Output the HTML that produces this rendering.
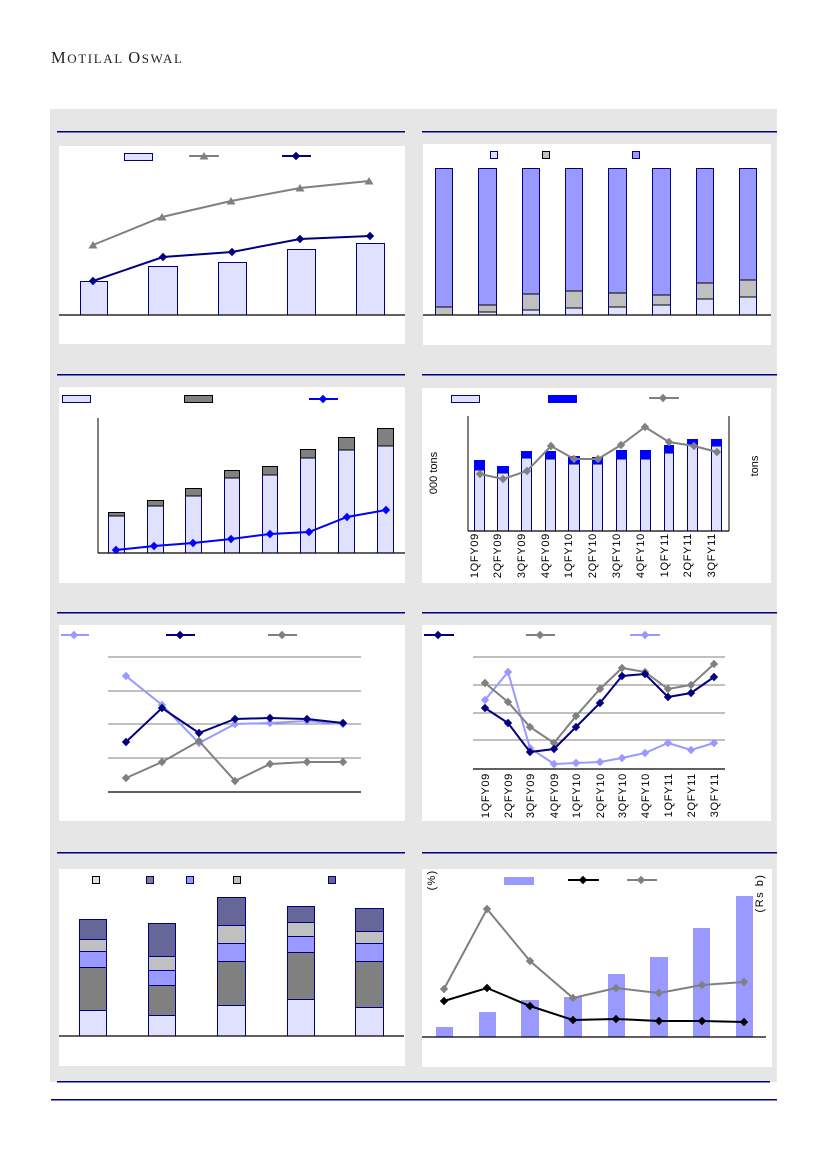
<!DOCTYPE html>
<html><head><meta charset="utf-8"><style>
html,body{margin:0;padding:0;background:#fff;}
svg{display:block;}
text{font-family:"Liberation Sans",Arial,sans-serif;}
</style></head><body>
<svg width="826" height="1169" viewBox="0 0 826 1169" xmlns="http://www.w3.org/2000/svg">
<defs>
<marker id="dNavy" markerUnits="userSpaceOnUse" markerWidth="10" markerHeight="10" refX="5" refY="5" viewBox="0 0 10 10"><path d="M5 0.8L9.2 5L5 9.2L0.8 5Z" fill="#000080"/></marker>
<marker id="dGray" markerUnits="userSpaceOnUse" markerWidth="10" markerHeight="10" refX="5" refY="5" viewBox="0 0 10 10"><path d="M5 0.8L9.2 5L5 9.2L0.8 5Z" fill="#808080"/></marker>
<marker id="dBlue" markerUnits="userSpaceOnUse" markerWidth="10" markerHeight="10" refX="5" refY="5" viewBox="0 0 10 10"><path d="M5 0.8L9.2 5L5 9.2L0.8 5Z" fill="#0000ff"/></marker>
<marker id="dLt" markerUnits="userSpaceOnUse" markerWidth="10" markerHeight="10" refX="5" refY="5" viewBox="0 0 10 10"><path d="M5 0.8L9.2 5L5 9.2L0.8 5Z" fill="#9999ff"/></marker>
<marker id="dBlk" markerUnits="userSpaceOnUse" markerWidth="10" markerHeight="10" refX="5" refY="5" viewBox="0 0 10 10"><path d="M5 0.8L9.2 5L5 9.2L0.8 5Z" fill="#000000"/></marker>
<marker id="tGray" markerUnits="userSpaceOnUse" markerWidth="10" markerHeight="10" refX="5" refY="5" viewBox="0 0 10 10"><path d="M5 1L9.5 8.5L0.5 8.5Z" fill="#808080"/></marker>
</defs>

<!-- Header -->
<text x="51" y="63" fill="#222" letter-spacing="1.6" style="font-family:'Liberation Serif',serif"><tspan font-size="16.5">M</tspan><tspan font-size="13">OTILAL </tspan><tspan font-size="16.5">O</tspan><tspan font-size="13">SWAL</tspan></text>

<!-- Gray background -->
<rect x="50" y="109" width="727" height="973" fill="#e6e6e6"/>

<!-- Title lines -->
<g fill="#000080">
<rect x="57" y="131" width="348" height="1.5"/>
<rect x="422" y="131" width="355" height="1.5"/>
<rect x="57" y="374" width="348" height="1.5"/>
<rect x="422" y="374" width="355" height="1.5"/>
<rect x="57" y="612" width="348" height="1.5"/>
<rect x="422" y="612" width="355" height="1.5"/>
<rect x="57" y="852" width="348" height="1.5"/>
<rect x="422" y="852" width="355" height="1.5"/>
<rect x="57" y="1081" width="713" height="1.5"/>
<rect x="51" y="1099" width="726" height="1.5"/>
</g>

<!-- White panels -->
<g fill="#ffffff">
<rect x="59" y="146" width="346" height="198"/>
<rect x="423" y="144" width="348" height="201"/>
<rect x="59" y="387" width="346" height="196"/>
<rect x="422" y="388" width="349" height="195"/>
<rect x="59" y="625" width="346" height="196"/>
<rect x="422" y="625" width="349" height="196"/>
<rect x="59" y="869" width="346" height="197"/>
<rect x="422" y="869" width="350" height="198"/>
</g>

<!-- ===== Chart 1 ===== -->
<rect x="124.5" y="153.5" width="28" height="7" fill="#e0e0ff" stroke="#000080" stroke-width="1"/>
<polyline points="189,156 204,156 219,156" fill="none" stroke="#808080" stroke-width="2" marker-mid="url(#tGray)"/>
<polyline points="282,156 296,156 311,156" fill="none" stroke="#000080" stroke-width="2" marker-mid="url(#dNavy)"/>
<g fill="#e0e0ff" stroke="#000080" stroke-width="1">
<rect x="80.5" y="281.5" width="27" height="33.5"/>
<rect x="148.5" y="266.5" width="29" height="48.5"/>
<rect x="218.5" y="262.5" width="28" height="52.5"/>
<rect x="287.5" y="249.5" width="28" height="65.5"/>
<rect x="356.5" y="243.5" width="28" height="71.5"/>
</g>
<line x1="59" y1="315" x2="405" y2="315" stroke="#000" stroke-width="1.2"/>
<polyline points="93,245 162,217 231,201 300,188 369,181" fill="none" stroke="#808080" stroke-width="2" marker-start="url(#tGray)" marker-mid="url(#tGray)" marker-end="url(#tGray)"/>
<polyline points="93,281 163,257 232,252 300,239 370,236" fill="none" stroke="#000080" stroke-width="2" marker-start="url(#dNavy)" marker-mid="url(#dNavy)" marker-end="url(#dNavy)"/>

<!-- ===== Chart 2 ===== -->
<rect x="490.5" y="151.5" width="7" height="7" fill="#e0e0ff" stroke="#000080"/>
<rect x="542.5" y="151.5" width="7" height="7" fill="#c0c0c0" stroke="#000"/>
<rect x="632.5" y="151.5" width="7" height="7" fill="#9999ff" stroke="#000080"/>
<g stroke-width="1">
<rect x="435.5" y="168.5" width="17" height="138.5" fill="#9999ff" stroke="#000080"/>
<rect x="435.5" y="307" width="17" height="8" fill="#c0c0c0" stroke="#000080"/>
<line x1="435.5" y1="307" x2="452.5" y2="307" stroke="#000"/>
<rect x="478.5" y="168.5" width="18" height="136.5" fill="#9999ff" stroke="#000080"/>
<rect x="478.5" y="305" width="18" height="7" fill="#c0c0c0" stroke="#000080"/>
<rect x="478.5" y="312" width="18" height="3" fill="#e0e0ff" stroke="#000080"/>
<line x1="478.5" y1="305" x2="496.5" y2="305" stroke="#000"/><line x1="478.5" y1="312" x2="496.5" y2="312" stroke="#000"/>
<rect x="522.5" y="168.5" width="17" height="125.5" fill="#9999ff" stroke="#000080"/>
<rect x="522.5" y="294" width="17" height="16" fill="#c0c0c0" stroke="#000080"/>
<rect x="522.5" y="310" width="17" height="5" fill="#e0e0ff" stroke="#000080"/>
<line x1="522.5" y1="294" x2="539.5" y2="294" stroke="#000"/><line x1="522.5" y1="310" x2="539.5" y2="310" stroke="#000"/>
<rect x="565.5" y="168.5" width="17" height="122.5" fill="#9999ff" stroke="#000080"/>
<rect x="565.5" y="291" width="17" height="17" fill="#c0c0c0" stroke="#000080"/>
<rect x="565.5" y="308" width="17" height="7" fill="#e0e0ff" stroke="#000080"/>
<line x1="565.5" y1="291" x2="582.5" y2="291" stroke="#000"/><line x1="565.5" y1="308" x2="582.5" y2="308" stroke="#000"/>
<rect x="608.5" y="168.5" width="18" height="124.5" fill="#9999ff" stroke="#000080"/>
<rect x="608.5" y="293" width="18" height="14" fill="#c0c0c0" stroke="#000080"/>
<rect x="608.5" y="307" width="18" height="8" fill="#e0e0ff" stroke="#000080"/>
<line x1="608.5" y1="293" x2="626.5" y2="293" stroke="#000"/><line x1="608.5" y1="307" x2="626.5" y2="307" stroke="#000"/>
<rect x="652.5" y="168.5" width="18" height="126.5" fill="#9999ff" stroke="#000080"/>
<rect x="652.5" y="295" width="18" height="10" fill="#c0c0c0" stroke="#000080"/>
<rect x="652.5" y="305" width="18" height="10" fill="#e0e0ff" stroke="#000080"/>
<line x1="652.5" y1="295" x2="670.5" y2="295" stroke="#000"/><line x1="652.5" y1="305" x2="670.5" y2="305" stroke="#000"/>
<rect x="696.5" y="168.5" width="17" height="114.5" fill="#9999ff" stroke="#000080"/>
<rect x="696.5" y="283" width="17" height="16" fill="#c0c0c0" stroke="#000080"/>
<rect x="696.5" y="299" width="17" height="16" fill="#e0e0ff" stroke="#000080"/>
<line x1="696.5" y1="283" x2="713.5" y2="283" stroke="#000"/><line x1="696.5" y1="299" x2="713.5" y2="299" stroke="#000"/>
<rect x="739.5" y="168.5" width="17" height="111.5" fill="#9999ff" stroke="#000080"/>
<rect x="739.5" y="280" width="17" height="17" fill="#c0c0c0" stroke="#000080"/>
<rect x="739.5" y="297" width="17" height="18" fill="#e0e0ff" stroke="#000080"/>
<line x1="739.5" y1="280" x2="756.5" y2="280" stroke="#000"/><line x1="739.5" y1="297" x2="756.5" y2="297" stroke="#000"/>
</g>
<line x1="423" y1="315" x2="771" y2="315" stroke="#000" stroke-width="1.2"/>

<!-- ===== Chart 3 ===== -->
<rect x="62.5" y="395.5" width="28" height="7" fill="#e0e0ff" stroke="#000080"/>
<rect x="184.5" y="395.5" width="28" height="7" fill="#808080" stroke="#000"/>
<polyline points="309,399 323,399 338,399" fill="none" stroke="#0000ff" stroke-width="2" marker-mid="url(#dBlue)"/>
<g stroke-width="1">
<rect x="108.5" y="516" width="16" height="37" fill="#e0e0ff" stroke="#000080"/><rect x="108.5" y="512.5" width="16" height="3.5" fill="#808080" stroke="#000"/>
<rect x="147.5" y="506" width="16" height="47" fill="#e0e0ff" stroke="#000080"/><rect x="147.5" y="500.5" width="16" height="5.5" fill="#808080" stroke="#000"/>
<rect x="185.5" y="496" width="16" height="57" fill="#e0e0ff" stroke="#000080"/><rect x="185.5" y="488.5" width="16" height="7.5" fill="#808080" stroke="#000"/>
<rect x="224.5" y="478" width="15" height="75" fill="#e0e0ff" stroke="#000080"/><rect x="224.5" y="470.5" width="15" height="7.5" fill="#808080" stroke="#000"/>
<rect x="262.5" y="475" width="15" height="78" fill="#e0e0ff" stroke="#000080"/><rect x="262.5" y="466.5" width="15" height="8.5" fill="#808080" stroke="#000"/>
<rect x="300.5" y="458" width="15" height="95" fill="#e0e0ff" stroke="#000080"/><rect x="300.5" y="449.5" width="15" height="8.5" fill="#808080" stroke="#000"/>
<rect x="338.5" y="450" width="16" height="103" fill="#e0e0ff" stroke="#000080"/><rect x="338.5" y="437.5" width="16" height="12.5" fill="#808080" stroke="#000"/>
<rect x="377.5" y="446" width="16" height="107" fill="#e0e0ff" stroke="#000080"/><rect x="377.5" y="428.5" width="16" height="17.5" fill="#808080" stroke="#000"/>
</g>
<line x1="98" y1="418" x2="98" y2="553" stroke="#000" stroke-width="1"/>
<line x1="98" y1="553" x2="405" y2="553" stroke="#000" stroke-width="1.2"/>
<polyline points="116,550 154,546 193,543 231,539 270,534 309,532 347,517 386,510" fill="none" stroke="#0000ff" stroke-width="2" marker-start="url(#dBlue)" marker-mid="url(#dBlue)" marker-end="url(#dBlue)"/>

<!-- ===== Chart 4 ===== -->
<rect x="451.5" y="395.5" width="28" height="7" fill="#e0e0ff" stroke="#000080"/>
<rect x="548" y="395" width="29" height="8" fill="#0000ff"/>
<polyline points="649,398 663,398 679,398" fill="none" stroke="#808080" stroke-width="2" marker-mid="url(#dGray)"/>
<g stroke-width="1">
<rect x="474.5" y="470" width="10" height="61" fill="#e0e0ff" stroke="#000080"/><rect x="474" y="460" width="11" height="10" fill="#0000ff"/>
<rect x="497.5" y="473" width="11" height="58" fill="#e0e0ff" stroke="#000080"/><rect x="497" y="466" width="12" height="7" fill="#0000ff"/>
<rect x="521.5" y="458" width="10" height="73" fill="#e0e0ff" stroke="#000080"/><rect x="521" y="451" width="11" height="7" fill="#0000ff"/>
<rect x="545.5" y="459" width="10" height="72" fill="#e0e0ff" stroke="#000080"/><rect x="545" y="451" width="11" height="8" fill="#0000ff"/>
<rect x="568.5" y="464" width="11" height="67" fill="#e0e0ff" stroke="#000080"/><rect x="568" y="456" width="12" height="8" fill="#0000ff"/>
<rect x="592.5" y="464" width="10" height="67" fill="#e0e0ff" stroke="#000080"/><rect x="592" y="457" width="11" height="7" fill="#0000ff"/>
<rect x="616.5" y="459" width="10" height="72" fill="#e0e0ff" stroke="#000080"/><rect x="616" y="450" width="11" height="9" fill="#0000ff"/>
<rect x="640.5" y="459" width="10" height="72" fill="#e0e0ff" stroke="#000080"/><rect x="640" y="450" width="11" height="9" fill="#0000ff"/>
<rect x="664.5" y="453" width="9" height="78" fill="#e0e0ff" stroke="#000080"/><rect x="664" y="445" width="10" height="8" fill="#0000ff"/>
<rect x="687.5" y="445" width="10" height="86" fill="#e0e0ff" stroke="#000080"/><rect x="687" y="439" width="11" height="6" fill="#0000ff"/>
<rect x="711.5" y="446" width="10" height="85" fill="#e0e0ff" stroke="#000080"/><rect x="711" y="439" width="11" height="7" fill="#0000ff"/>
</g>
<line x1="468" y1="416" x2="468" y2="531" stroke="#000"/>
<line x1="729" y1="416" x2="729" y2="531" stroke="#000"/>
<line x1="468" y1="531" x2="729" y2="531" stroke="#000" stroke-width="1.2"/>
<polyline points="480,474 503,479 527,471 551,446 574,459 598,459 621,445 645,427 669,442 694,446 717,452" fill="none" stroke="#808080" stroke-width="2" marker-start="url(#dGray)" marker-mid="url(#dGray)" marker-end="url(#dGray)"/>
<g font-size="11" fill="#000">
<text transform="translate(437,473) rotate(-90)" text-anchor="middle">000 tons</text>
<text transform="translate(758,466) rotate(-90)" text-anchor="middle">tons</text>
</g>
<g font-size="11" fill="#000" letter-spacing="0.7" text-anchor="end">
<text transform="translate(478,533) rotate(-90)">1QFY09</text>
<text transform="translate(501,533) rotate(-90)">2QFY09</text>
<text transform="translate(525,533) rotate(-90)">3QFY09</text>
<text transform="translate(549,533) rotate(-90)">4QFY09</text>
<text transform="translate(572,533) rotate(-90)">1QFY10</text>
<text transform="translate(596,533) rotate(-90)">2QFY10</text>
<text transform="translate(620,533) rotate(-90)">3QFY10</text>
<text transform="translate(644,533) rotate(-90)">4QFY10</text>
<text transform="translate(668,533) rotate(-90)">1QFY11</text>
<text transform="translate(691,533) rotate(-90)">2QFY11</text>
<text transform="translate(715,533) rotate(-90)">3QFY11</text>
</g>

<!-- ===== Chart 5 ===== -->
<polyline points="61,635 74,635 89,635" fill="none" stroke="#9999ff" stroke-width="2" marker-mid="url(#dLt)"/>
<polyline points="166,635 180,635 195,635" fill="none" stroke="#000080" stroke-width="2" marker-mid="url(#dNavy)"/>
<polyline points="268,635 282,635 297,635" fill="none" stroke="#808080" stroke-width="2" marker-mid="url(#dGray)"/>
<g stroke="#808080" stroke-width="1">
<line x1="108" y1="657" x2="361" y2="657"/>
<line x1="108" y1="691" x2="361" y2="691"/>
<line x1="108" y1="724" x2="361" y2="724"/>
<line x1="108" y1="758" x2="361" y2="758"/>
</g>
<line x1="108" y1="792" x2="361" y2="792" stroke="#000" stroke-width="1.2"/>
<polyline points="126,676 162,705 199,743 235,724 270,723 307,721 343,724" fill="none" stroke="#9999ff" stroke-width="2" marker-start="url(#dLt)" marker-mid="url(#dLt)" marker-end="url(#dLt)"/>
<polyline points="126,778 162,762 199,741 235,781 270,764 307,762 343,762" fill="none" stroke="#808080" stroke-width="2" marker-start="url(#dGray)" marker-mid="url(#dGray)" marker-end="url(#dGray)"/>
<polyline points="126,742 162,708 199,733 235,719 270,718 307,719 343,723" fill="none" stroke="#000080" stroke-width="2" marker-start="url(#dNavy)" marker-mid="url(#dNavy)" marker-end="url(#dNavy)"/>

<!-- ===== Chart 6 ===== -->
<polyline points="424,635 438,635 454,635" fill="none" stroke="#000080" stroke-width="2" marker-mid="url(#dNavy)"/>
<polyline points="526,635 540,635 555,635" fill="none" stroke="#808080" stroke-width="2" marker-mid="url(#dGray)"/>
<polyline points="630,635 645,635 660,635" fill="none" stroke="#9999ff" stroke-width="2" marker-mid="url(#dLt)"/>
<g stroke="#808080" stroke-width="1">
<line x1="473" y1="657" x2="725" y2="657"/>
<line x1="473" y1="685" x2="725" y2="685"/>
<line x1="473" y1="713" x2="725" y2="713"/>
<line x1="473" y1="740" x2="725" y2="740"/>
</g>
<line x1="473" y1="769" x2="725" y2="769" stroke="#000" stroke-width="1.2"/>
<polyline points="485,700 508,672 530,748 554,764 576,763 600,762 622,758 645,753 668,743 691,750 714,743" fill="none" stroke="#9999ff" stroke-width="2" marker-start="url(#dLt)" marker-mid="url(#dLt)" marker-end="url(#dLt)"/>
<polyline points="485,683 508,702 530,727 554,743 576,716 600,689 622,668 645,672 668,689 691,685 714,664" fill="none" stroke="#808080" stroke-width="2" marker-start="url(#dGray)" marker-mid="url(#dGray)" marker-end="url(#dGray)"/>
<polyline points="485,708 508,723 530,752 554,749 576,727 600,703 622,676 645,674 668,697 691,693 714,677" fill="none" stroke="#000080" stroke-width="2" marker-start="url(#dNavy)" marker-mid="url(#dNavy)" marker-end="url(#dNavy)"/>
<g font-size="11" fill="#000" letter-spacing="0.7" text-anchor="end">
<text transform="translate(489,773) rotate(-90)">1QFY09</text>
<text transform="translate(512,773) rotate(-90)">2QFY09</text>
<text transform="translate(534,773) rotate(-90)">3QFY09</text>
<text transform="translate(558,773) rotate(-90)">4QFY09</text>
<text transform="translate(580,773) rotate(-90)">1QFY10</text>
<text transform="translate(604,773) rotate(-90)">2QFY10</text>
<text transform="translate(626,773) rotate(-90)">3QFY10</text>
<text transform="translate(649,773) rotate(-90)">4QFY10</text>
<text transform="translate(672,773) rotate(-90)">1QFY11</text>
<text transform="translate(695,773) rotate(-90)">2QFY11</text>
<text transform="translate(718,773) rotate(-90)">3QFY11</text>
</g>

<!-- ===== Chart 7 ===== -->
<rect x="92.5" y="876.5" width="7" height="7" fill="#e0e0ff" stroke="#000"/>
<rect x="146.5" y="876.5" width="7" height="7" fill="#808080" stroke="#000080"/>
<rect x="186.5" y="876.5" width="7" height="7" fill="#9999ff" stroke="#000080"/>
<rect x="233.5" y="876.5" width="7" height="7" fill="#c0c0c0" stroke="#000"/>
<rect x="328.5" y="876.5" width="7" height="7" fill="#666699" stroke="#000080"/>
<g stroke-width="1">
<rect x="79.5" y="919.5" width="27" height="20" fill="#666699" stroke="#000080"/>
<rect x="79.5" y="939.5" width="27" height="12" fill="#c0c0c0" stroke="#000080"/>
<rect x="79.5" y="951.5" width="27" height="16" fill="#9999ff" stroke="#000080"/>
<rect x="79.5" y="967.5" width="27" height="43" fill="#808080" stroke="#000080"/>
<rect x="79.5" y="1010.5" width="27" height="25.5" fill="#e0e0ff" stroke="#000080"/>
<rect x="148.5" y="923.5" width="27" height="33" fill="#666699" stroke="#000080"/>
<rect x="148.5" y="956.5" width="27" height="14" fill="#c0c0c0" stroke="#000080"/>
<rect x="148.5" y="970.5" width="27" height="15" fill="#9999ff" stroke="#000080"/>
<rect x="148.5" y="985.5" width="27" height="30" fill="#808080" stroke="#000080"/>
<rect x="148.5" y="1015.5" width="27" height="20.5" fill="#e0e0ff" stroke="#000080"/>
<rect x="217.5" y="897.5" width="28" height="28" fill="#666699" stroke="#000080"/>
<rect x="217.5" y="925.5" width="28" height="18" fill="#c0c0c0" stroke="#000080"/>
<rect x="217.5" y="943.5" width="28" height="18" fill="#9999ff" stroke="#000080"/>
<rect x="217.5" y="961.5" width="28" height="44" fill="#808080" stroke="#000080"/>
<rect x="217.5" y="1005.5" width="28" height="30.5" fill="#e0e0ff" stroke="#000080"/>
<rect x="287.5" y="906.5" width="27" height="16" fill="#666699" stroke="#000080"/>
<rect x="287.5" y="922.5" width="27" height="14" fill="#c0c0c0" stroke="#000080"/>
<rect x="287.5" y="936.5" width="27" height="16" fill="#9999ff" stroke="#000080"/>
<rect x="287.5" y="952.5" width="27" height="47" fill="#808080" stroke="#000080"/>
<rect x="287.5" y="999.5" width="27" height="36.5" fill="#e0e0ff" stroke="#000080"/>
<rect x="355.5" y="908.5" width="28" height="23" fill="#666699" stroke="#000080"/>
<rect x="355.5" y="931.5" width="28" height="12" fill="#c0c0c0" stroke="#000080"/>
<rect x="355.5" y="943.5" width="28" height="18" fill="#9999ff" stroke="#000080"/>
<rect x="355.5" y="961.5" width="28" height="46" fill="#808080" stroke="#000080"/>
<rect x="355.5" y="1007.5" width="28" height="28.5" fill="#e0e0ff" stroke="#000080"/>
</g>
<line x1="59" y1="1036" x2="404" y2="1036" stroke="#000" stroke-width="1.2"/>

<!-- ===== Chart 8 ===== -->
<rect x="504" y="877" width="30" height="8" fill="#9999ff"/>
<polyline points="568,880 583,880 599,880" fill="none" stroke="#000" stroke-width="2" marker-mid="url(#dBlk)"/>
<polyline points="627,880 641,880 657,880" fill="none" stroke="#808080" stroke-width="2" marker-mid="url(#dGray)"/>
<g fill="#9999ff">
<rect x="436" y="1027" width="17" height="10"/>
<rect x="479" y="1012" width="17" height="25"/>
<rect x="521" y="1000" width="18" height="37"/>
<rect x="564" y="997" width="18" height="40"/>
<rect x="608" y="974" width="17" height="63"/>
<rect x="650" y="957" width="18" height="80"/>
<rect x="693" y="928" width="17" height="109"/>
<rect x="736" y="896" width="17" height="141"/>
</g>
<line x1="422" y1="1037" x2="766" y2="1037" stroke="#000" stroke-width="1.2"/>
<polyline points="444,989 487,909 530,961 573,998 616,988 659,993 702,985 744,982" fill="none" stroke="#808080" stroke-width="2" marker-start="url(#dGray)" marker-mid="url(#dGray)" marker-end="url(#dGray)"/>
<polyline points="444,1001 487,988 530,1006 573,1020 616,1019 659,1021 702,1021 744,1022" fill="none" stroke="#000" stroke-width="2" marker-start="url(#dBlk)" marker-mid="url(#dBlk)" marker-end="url(#dBlk)"/>
<g font-size="11" fill="#000">
<text transform="translate(435,880) rotate(-90)" text-anchor="middle" letter-spacing="1.2">(%)</text>
<text transform="translate(763,893) rotate(-90)" text-anchor="middle" letter-spacing="1.5">(Rs b)</text>
</g>
</svg>
</body></html>
